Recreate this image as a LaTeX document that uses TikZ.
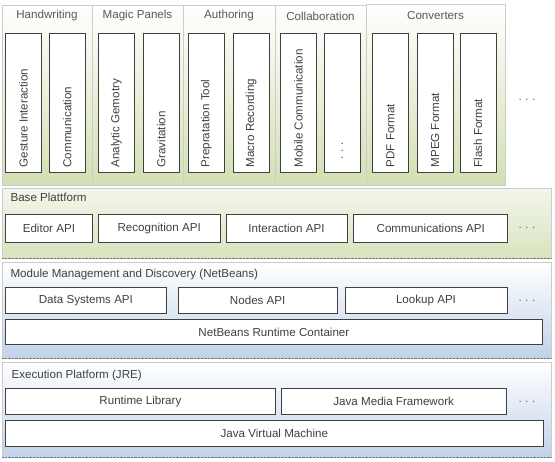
\documentclass[tikz,border=0pt]{standalone}
\usepackage{fontspec}
\setmainfont{Liberation Sans}
\usepackage{graphicx}
\usetikzlibrary{positioning}

\definecolor{grpgreen}{RGB}{210,224,178}
\definecolor{basegreen}{RGB}{216,227,190}
\definecolor{layerblue}{RGB}{192,210,234}
\newcommand{\vtext}[1]{\rotatebox{90}{\makebox[129pt][l]{#1}}}
\newcommand{\mydots}{.\hspace{3.5pt}.\hspace{3.5pt}.}

\begin{document}
\begin{tikzpicture}[
x=1pt, y=-1pt,
font=\fontsize{11.6pt}{13pt}\selectfont,
text=black!75,
grp/.style={draw=black!20, top color=white, bottom color=grpgreen, anchor=north west, minimum height=180pt, inner sep=0pt},
layer/.style={draw=black!20, anchor=north west, minimum width=549pt, inner sep=0pt},
vbox/.style={draw=black!75, line width=0.8pt, fill=white, anchor=north west, minimum width=36pt, minimum height=139pt, inner sep=5pt},
api/.style={draw=black!75, line width=0.8pt, fill=white, anchor=north west, minimum height=26pt, inner sep=2pt},
hdr/.style={text=black!65},
lbl/.style={anchor=west, text=black!75},
more/.style={text=black!60}
]
\useasboundingbox (0,0) rectangle (555,462);

% top row of plug-in groups
\node[grp, minimum width=90pt] (hwgrp) at (2,5) {};
\node[grp, minimum width=91pt] (mpgrp) at (92,5) {};
\node[grp, minimum width=92pt] (augrp) at (183,5) {};
\node[grp, minimum width=91pt] (cogrp) at (275,5) {};
\node[grp, minimum width=139pt, minimum height=181pt] (cvgrp) at (366,4) {};

\node[hdr] (hwhdr) at (47,16) {Handwriting};
\node[hdr] (mphdr) at (137.5,16) {Magic Panels};
\node[hdr] (auhdr) at (229,16) {Authoring};
\node[hdr] (cohdr) at (320.5,16) {Collaboration};
\node[hdr] (cvhdr) at (435.5,16) {Converters};

\node[vbox] (gesture) at (5,33) {\vtext{Gesture Interaction}};
\node[vbox, right=7pt of gesture] (comm) {\vtext{Communication}};
\node[vbox] (analytic) at (98,33) {\vtext{Analytic Gemotry}};
\node[vbox, right=8pt of analytic] (grav) {\vtext{Gravitation}};
\node[vbox] (prep) at (188,33) {\vtext{Prepratation Tool}};
\node[vbox, right=8pt of prep] (macro) {\vtext{Macro Recording}};
\node[vbox] (mobile) at (280,33) {\vtext{Mobile Communication}};
\node[vbox, right=7pt of mobile] (collmore) {\vtext{\hspace{8pt}\mydots}};
\node[vbox] (pdf) at (372,33) {\vtext{PDF Format}};
\node[vbox, right=8pt of pdf] (mpeg) {\vtext{MPEG Format}};
\node[vbox, right=6pt of mpeg] (flash) {\vtext{Flash Format}};
\node[more] (topmore) at (527,100) {\mydots};

% base platform
\node[layer, top color=basegreen!30!white, bottom color=basegreen, minimum height=70pt] (base) at (2,188) {};
\draw[densely dotted, black!55] (base.south west) -- (base.south east);
\node[lbl] (baselbl) at (7,197) {Base Plattform};
\node[api, minimum width=87pt, minimum height=28pt] (editor) at (5,214) {Editor API};
\node[api, minimum width=122pt, minimum height=28pt, right=5pt of editor] (recog) {Recognition API};
\node[api, minimum width=121pt, minimum height=28pt, right=5pt of recog] (inter) {Interaction API};
\node[api, minimum width=154pt, minimum height=28pt, right=6pt of inter] (commapi) {Communications API};
\node[more] (basemore) at (527,228) {\mydots};

% module management
\node[layer, top color=white, bottom color=layerblue, minimum height=96pt] (module) at (2,262) {};
\draw[densely dotted, black!55] (module.south west) -- (module.south east);
\node[lbl] (modlbl) at (7,275) {Module Management and Discovery (NetBeans)};
\node[api, minimum width=161pt] (datasys) at (5,287) {Data Systems API};
\node[api, minimum width=159pt, right=11pt of datasys] (nodesapi) {Nodes API};
\node[api, minimum width=162pt, right=7pt of nodesapi] (lookup) {Lookup API};
\node[more] (modmore) at (527,301) {\mydots};
\node[api, minimum width=537pt, minimum height=25pt] (nbrc) at (5,319) {NetBeans Runtime Container};

% execution platform
\node[layer, top color=white, bottom color=layerblue, minimum height=95pt] (exec) at (2,362) {};
\draw[densely dotted, black!55] (exec.south west) -- (exec.south east);
\node[lbl] (execlbl) at (8,375) {Execution Platform (JRE)};
\node[api, minimum width=270pt] (rtlib) at (5,388) {Runtime Library};
\node[api, minimum width=225pt, right=5pt of rtlib] (jmf) {Java Media Framework};
\node[more] (execmore) at (527,402) {\mydots};
\node[api, minimum width=538pt] (jvm) at (5,420) {Java Virtual Machine};

\end{tikzpicture}
\end{document}
